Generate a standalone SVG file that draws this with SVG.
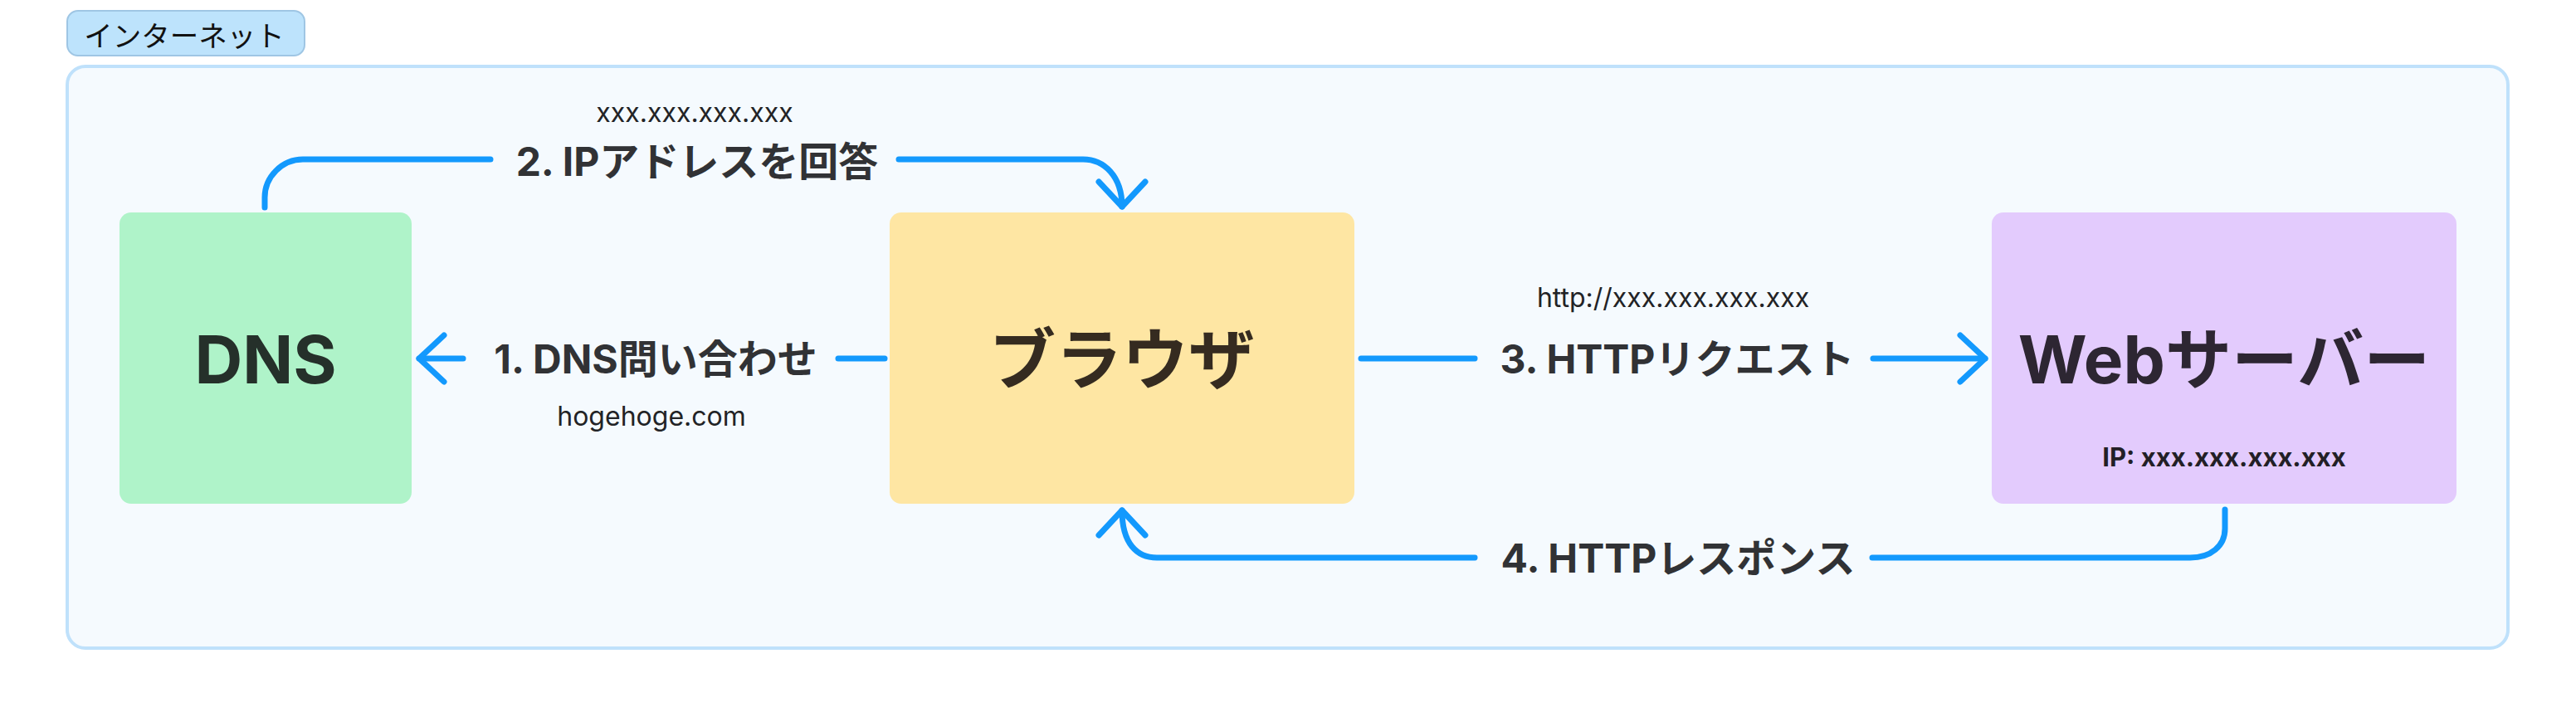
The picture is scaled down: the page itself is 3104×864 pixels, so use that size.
<svg xmlns="http://www.w3.org/2000/svg" width="3104" height="864" viewBox="0 0 3104 864">
<style>
  text { font-family: "Inter", "Noto Sans CJK JP", sans-serif; }
  .node-title { font-size: 80px; font-weight: 700; text-anchor: middle; dominant-baseline: central; }
  .elabel { font-size: 48px; font-weight: 700; fill: #313235; text-anchor: middle; dominant-baseline: central; }
  .esub { font-size: 32px; font-weight: 400; fill: #222326; text-anchor: middle; dominant-baseline: central; }
  .conn { fill: none; stroke: #1399fd; stroke-width: 7; stroke-linecap: round; stroke-linejoin: round; }
</style>
<defs>
  <marker id="arrow" markerUnits="userSpaceOnUse" orient="auto" markerWidth="80" markerHeight="80" refX="0" refY="0" style="overflow:visible">
    <path d="M-30,-28 L0,0 L-30,28" fill="none" stroke="#1399fd" stroke-width="7" stroke-linecap="round" stroke-linejoin="round"/>
  </marker>
</defs>
<rect x="0" y="0" width="3104" height="864" fill="#ffffff"/>

<g id="internet">
  <rect x="81" y="80" width="2941" height="701" rx="22" fill="#f5fafe" stroke="#bfe1fb" stroke-width="4"/>
  <rect x="81" y="13" width="286" height="54" rx="13" fill="#bde3fc" stroke="#9fc6e4" stroke-width="2"/>
  <text x="222" y="41" style="font-size:34.5px;fill:#111;text-anchor:middle;dominant-baseline:central;font-family:'Noto Sans CJK JP',sans-serif">インターネット</text>
</g>

<g id="dns">
  <rect x="144" y="256" width="352" height="351" rx="14" fill="#aff3c9"/>
  <text class="node-title" x="320" y="432" fill="#25302a">DNS</text>
</g>

<g id="browser">
  <rect x="1072" y="256" width="560" height="351" rx="14" fill="#fee6a3"/>
  <text class="node-title" x="1352" y="432" fill="#352b20">ブラウザ</text>
</g>

<g id="webserver">
  <rect x="2400" y="256" width="560" height="351" rx="14" fill="#e3cbfd"/>
  <text class="node-title" x="2680" y="432" fill="#2d2632">Webサーバー</text>
  <text x="2680" y="550" style="font-size:31px;font-weight:700;fill:#231f26;text-anchor:middle;dominant-baseline:central">IP: xxx.xxx.xxx.xxx</text>
</g>

<g id="connectors">
  <!-- 1. DNS query -->
  <path class="conn" d="M1066,432 L1010,432"/>
  <path class="conn" d="M558,432 L505,432" marker-end="url(#arrow)"/>
  <text class="elabel" x="790" y="432">1. DNS問い合わせ</text>
  <text class="esub" x="785" y="501">hogehoge.com</text>

  <!-- 2. IP answer -->
  <path class="conn" d="M319,250 L319,238 C319,213 340,192 365,192 L591,192"/>
  <path class="conn" d="M1083,192 L1305,192 C1330,192 1352,212 1352,249" marker-end="url(#arrow)"/>
  <text class="elabel" x="840" y="194">2. IPアドレスを回答</text>
  <text class="esub" x="837" y="135">xxx.xxx.xxx.xxx</text>

  <!-- 3. HTTP request -->
  <path class="conn" d="M1640,432 L1777,432"/>
  <path class="conn" d="M2257,432 L2392,432" marker-end="url(#arrow)"/>
  <text class="elabel" x="2021" y="432">3. HTTPリクエスト</text>
  <text class="esub" x="2016" y="358">http://xxx.xxx.xxx.xxx</text>

  <!-- 4. HTTP response -->
  <path class="conn" d="M2681,614 L2681,637 C2681,658 2664,672 2639,672 L2256,672"/>
  <path class="conn" d="M1777,672 L1394,672 C1370,672 1352,655 1352,615" marker-end="url(#arrow)"/>
  <text class="elabel" x="2022" y="672">4. HTTPレスポンス</text>
</g>
</svg>
